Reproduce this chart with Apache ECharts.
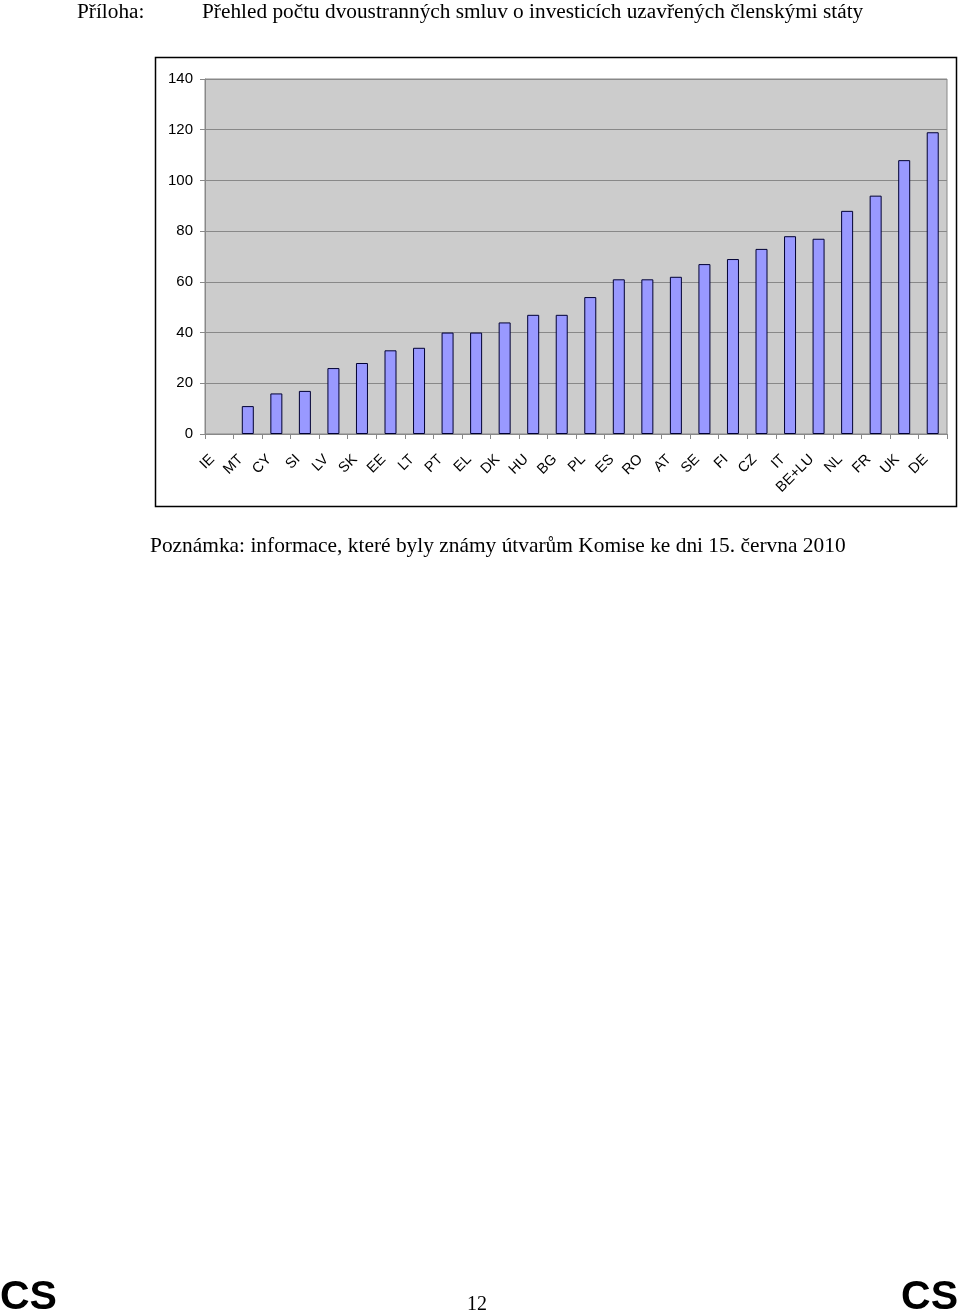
<!DOCTYPE html>
<html><head><meta charset="utf-8">
<script src="https://cdn.jsdelivr.net/npm/echarts@6/dist/echarts.min.js"></script>
<style>html,body{margin:0;padding:0;background:#fff}#c{width:960px;height:1315px}</style>
</head><body><div id="c"></div>
<script>
const categories = ['IE','MT','CY','SI','LV','SK','EE','LT','PT','EL','DK','HU','BG','PL','ES','RO','AT','SE','FI','CZ','IT','BE+LU','NL','FR','UK','DE'];
const treatyCounts = [0,11,16,17,26,28,33,34,40,40,44,47,47,54,61,61,62,67,69,73,78,77,88,94,108,119];
const yTicks = [0,20,40,60,80,100,120,140];

const chart = echarts.init(document.getElementById('c'), null, {renderer:'canvas'});
const serif = '"Liberation Serif","Times New Roman",serif';
const sans = '"Liberation Sans",Arial,sans-serif';
const tx = (text, pos, font, size, weight) => Object.assign({text, padding:0,
  textStyle:{fontFamily:font,fontSize:size,fontWeight:weight||'normal',color:'#000'}}, pos);
chart.setOption({
  animation:false,
  backgroundColor:'#fff',
  title:[
    tx('Příloha:', {left:77, top:2}, serif, 21.3),
    tx('Přehled počtu dvoustranných smluv o investicích uzavřených členskými státy', {left:202, top:2}, serif, 21.3),
    tx('Poznámka: informace, které byly známy útvarům Komise ke dni 15. června 2010', {left:150, top:536}, serif, 21.4),
    tx('CS', {left:0, top:1277}, sans, 41, 'bold'),
    tx('CS', {right:2, top:1277}, sans, 41, 'bold'),
    tx('12', {left:467, top:1295}, serif, 20)
  ],
  graphic:[
    {type:'rect', shape:{x:155.5,y:57.5,width:801,height:449}, style:{fill:'none',stroke:'#000',lineWidth:1.5}, z:-1}
  ],
  grid:{left:205, top:79, width:742, height:355, show:true, backgroundColor:'#cccccc', borderColor:'#888', borderWidth:1},
  xAxis:{
    type:'category', data:categories, boundaryGap:true,
    axisLine:{lineStyle:{color:'#888',width:1}},
    axisTick:{show:true, alignWithLabel:false, length:5, lineStyle:{color:'#888'}},
    axisLabel:{rotate:45, interval:0, margin:16, padding:[0,10,0,0], fontFamily:sans, fontSize:14.5, color:'#000'}
  },
  yAxis:{
    type:'value', min:0, max:140, interval:20,
    axisLine:{show:true, lineStyle:{color:'#888'}},
    axisTick:{show:true, length:5, lineStyle:{color:'#888'}},
    splitLine:{show:true, lineStyle:{color:'#888',width:1}},
    axisLabel:{margin:12, fontFamily:sans, fontSize:15, color:'#000',
      formatter:v => yTicks.includes(v) ? String(v) : ''}
  },
  series:[{
    type:'bar', barWidth:12,
    data:treatyCounts.map(v => v === 0 ? {value:v, itemStyle:{borderWidth:0}} : v),
    itemStyle:{color:'#9999ff', borderColor:'#000033', borderWidth:1}
  }]
});
</script></body></html>
